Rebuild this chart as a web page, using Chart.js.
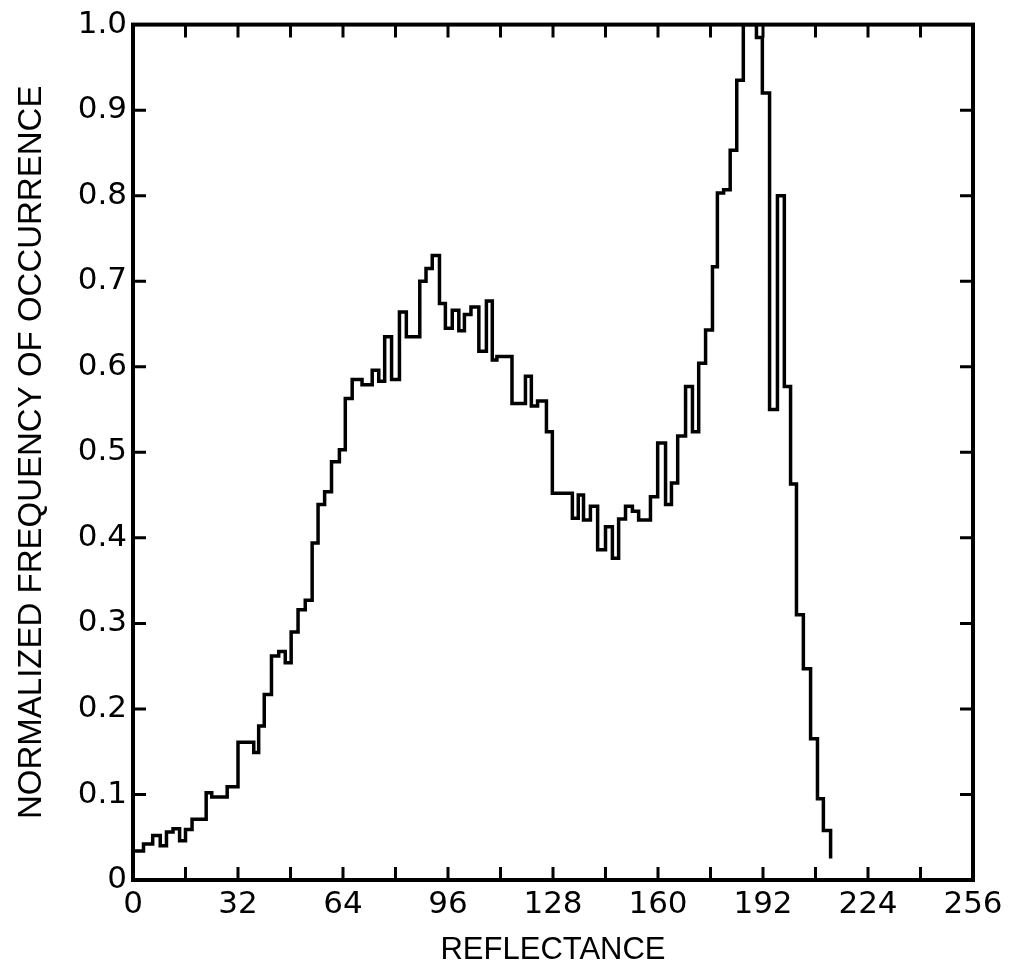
<!DOCTYPE html>
<html>
<head>
<meta charset="utf-8">
<script src="https://cdn.jsdelivr.net/npm/chart.js@4.4.1/dist/chart.umd.min.js"></script>
<style>
  html, body { margin: 0; padding: 0; background: #fff; }
  #wrap { width: 1010px; height: 972px; }
</style>
</head>
<body>
<div id="wrap"><canvas id="histogram" width="1010" height="972"></canvas></div>
<script>
// reflectance at which each step of the histogram trace begins
const stepStart = [
  0, 3.2, 6.0, 8.3, 10.2, 12.2, 14.2, 16.0, 18.0, 22.3,
  24.0, 28.7, 32.0, 36.8, 38.3, 40.0, 42.2, 44.4, 46.4, 48.2,
  50.3, 52.5, 54.6, 56.4, 58.4, 60.5, 62.9, 64.7, 66.8, 69.8,
  72.9, 74.9, 76.7, 78.8, 81.2, 83.3, 87.4, 89.3, 91.2, 93.4,
  95.2, 97.3, 99.3, 101.0, 103.0, 105.4, 107.7, 109.5, 110.9, 115.5,
  119.6, 121.4, 123.3, 126.0, 127.8, 133.9, 135.7, 137.3, 139.4, 141.6,
  144.0, 146.1, 148.0, 150.1, 152.2, 154.1, 157.7, 159.9, 162.3, 164.1,
  166.0, 168.4, 170.5, 172.4, 174.5, 176.6, 178.1, 180.0, 182.0, 184.0,
  186.0, 190.0, 191.8, 194.0, 196.4, 198.5, 200.4, 202.2, 204.3, 206.5,
  208.6, 210.4
];

// normalized frequency of occurrence on each step
const stepValue = [
  0.034, 0.042, 0.052, 0.040, 0.056, 0.060, 0.046, 0.059, 0.071, 0.102,
  0.097, 0.109, 0.161, 0.149, 0.180, 0.217, 0.262, 0.267, 0.254, 0.290,
  0.316, 0.327, 0.394, 0.439, 0.454, 0.489, 0.503, 0.563, 0.585, 0.579,
  0.596, 0.583, 0.635, 0.585, 0.664, 0.635, 0.700, 0.715, 0.730, 0.674,
  0.645, 0.666, 0.642, 0.661, 0.670, 0.618, 0.677, 0.608, 0.612, 0.557,
  0.589, 0.554, 0.560, 0.524, 0.452, 0.423, 0.450, 0.421, 0.437, 0.386,
  0.413, 0.376, 0.422, 0.437, 0.431, 0.421, 0.448, 0.511, 0.439, 0.464,
  0.519, 0.577, 0.524, 0.604, 0.643, 0.717, 0.803, 0.807, 0.853, 0.935,
  1.000, 0.985, 0.920, 0.550, 0.800, 0.577, 0.463, 0.310, 0.247, 0.165,
  0.095, 0.058
];

// where the trace stops, and the value it falls to there
const traceEnd = 212.6;
const traceEndValue = 0.025;

const xTickLabels = [0, 32, 64, 96, 128, 160, 192, 224, 256];
const yTickLabels = [0, 0.1, 0.2, 0.3, 0.4, 0.5, 0.6, 0.7, 0.8, 0.9, 1.0];

const points = stepStart.map((x, i) => ({ x: x, y: stepValue[i] }));
points.push({ x: traceEnd, y: traceEndValue });

const TICK_LEN = 13;

// inward tick marks on all four sides plus the closed frame
const boxTicks = {
  id: 'boxTicks',
  afterDatasetsDraw(chart) {
    const { ctx, chartArea: a, scales } = chart;
    const xs = scales.x, ys = scales.y;
    ctx.save();
    ctx.strokeStyle = '#000';
    ctx.lineWidth = 3;
    ctx.beginPath();
    xs.ticks.forEach(t => {
      const px = xs.getPixelForValue(t.value);
      ctx.moveTo(px, a.bottom);
      ctx.lineTo(px, a.bottom - TICK_LEN);
      ctx.moveTo(px, a.top);
      ctx.lineTo(px, a.top + TICK_LEN);
    });
    ys.ticks.forEach(t => {
      const py = ys.getPixelForValue(t.value);
      ctx.moveTo(a.left, py);
      ctx.lineTo(a.left + TICK_LEN, py);
      ctx.moveTo(a.right, py);
      ctx.lineTo(a.right - TICK_LEN, py);
    });
    ctx.stroke();
    ctx.lineWidth = 4;
    ctx.strokeRect(a.left, a.top, a.right - a.left, a.bottom - a.top);
    ctx.restore();
  }
};

const ctx = document.getElementById('histogram').getContext('2d');

new Chart(ctx, {
  type: 'line',
  data: {
    datasets: [
      {
        label: 'Normalized frequency',
        data: points,
        // hold each value until the next step, then jump
        stepped: 'before',
        borderColor: '#000',
        borderWidth: 3.5,
        pointRadius: 0,
        fill: false,
      },
    ],
  },
  options: {
    responsive: false,
    animation: false,
    devicePixelRatio: 1,
    layout: {
      padding: { left: 0, right: 37, top: 24, bottom: 0 },
    },
    plugins: {
      legend: { display: false },
      tooltip: { enabled: false },
    },
    scales: {
      x: {
        type: 'linear',
        min: 0,
        max: 256,
        border: { display: false },
        grid: { display: false, drawTicks: false },
        ticks: {
          stepSize: 16,
          autoSkip: false,
          maxRotation: 0,
          padding: 6,
          color: '#000',
          font: { family: 'DejaVu Sans', size: 31 },
          callback: v => (xTickLabels.includes(v) ? String(v) : ''),
        },
        title: {
          display: true,
          text: 'REFLECTANCE',
          color: '#000',
          font: { family: 'Liberation Sans', size: 31 },
          padding: { top: 0, bottom: 3 },
        },
        afterFit: scale => { scale.height = 92; },
      },
      y: {
        type: 'linear',
        min: 0,
        max: 1,
        border: { display: false },
        grid: { display: false, drawTicks: false },
        ticks: {
          stepSize: 0.1,
          padding: 6,
          color: '#000',
          font: { family: 'DejaVu Sans', size: 31 },
          callback: v => {
            const t = yTickLabels.find(k => Math.abs(k - v) < 1e-6);
            if (t === undefined) return '';
            return t === 0 ? '0' : t.toFixed(1);
          },
        },
        title: {
          display: true,
          text: 'NORMALIZED FREQUENCY OF OCCURRENCE',
          color: '#000',
          font: { family: 'Liberation Sans', size: 33 },
          padding: { top: 12, bottom: 0 },
        },
        afterFit: scale => { scale.width = 133; },
      },
    },
  },
  plugins: [boxTicks],
});
</script>
</body>
</html>
